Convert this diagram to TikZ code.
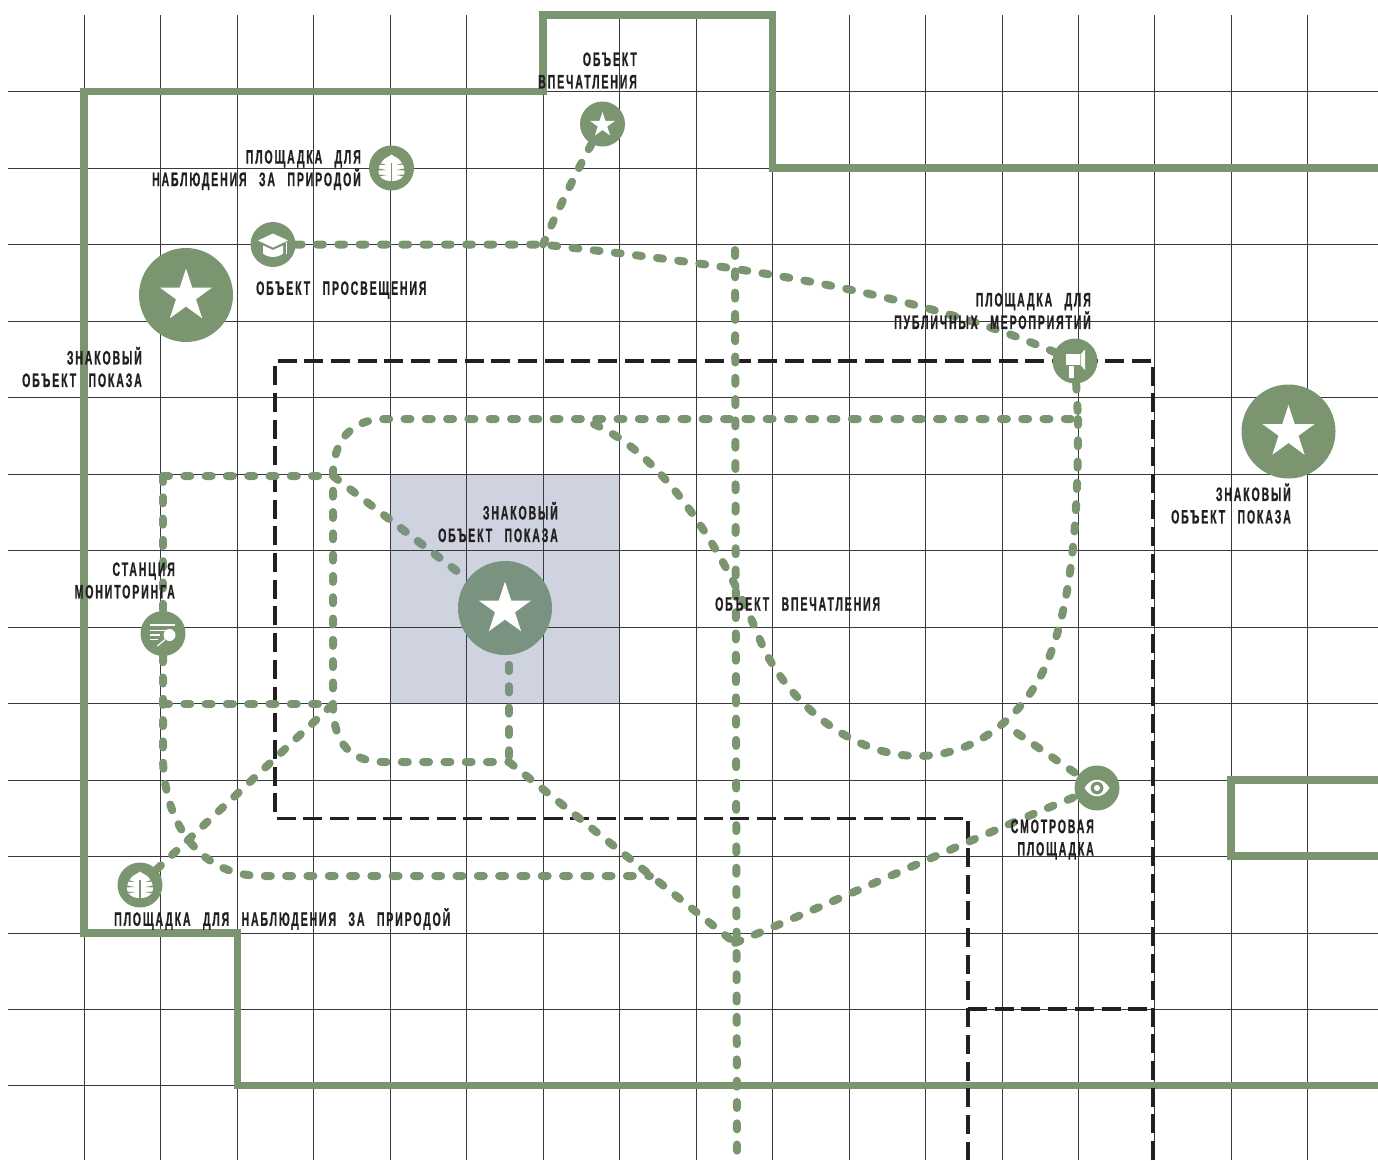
\documentclass[tikz,border=0pt]{standalone}
\usepackage{fontspec}
\usetikzlibrary{shapes.geometric}
\newfontfamily\lblfont[FakeStretch=0.54,LetterSpace=9.5,FakeBold=0.7,WordSpace=2.6]{Liberation Sans}
\definecolor{wallgreen}{HTML}{7A9570}
\definecolor{inkblack}{HTML}{231F20}
\definecolor{gridgrey}{HTML}{3A3A3A}
\definecolor{squareblue}{HTML}{CED3DF}
\definecolor{midgreen}{HTML}{7A9280}
\pgfdeclarelayer{under}
\pgfdeclarelayer{paths}
\pgfsetlayers{under,paths,main}
\tikzset{
  gridline/.style={draw=gridgrey,line width=0.9pt},
  wall/.style={draw=wallgreen,line width=7.5pt,line cap=rect,line join=miter},
  zone/.style={draw=inkblack,line width=3.6pt,dash pattern=on 19pt off 7.7pt},
  trail/.style={draw=wallgreen,line width=8pt,line cap=round,dash pattern=on 6pt off 15.3pt},
  bigdot/.style={circle,fill=wallgreen,minimum size=94pt,inner sep=0pt},
  smalldot/.style={circle,fill=wallgreen,minimum size=45pt,inner sep=0pt},
  bigstar/.style={star,star points=5,star point ratio=2.618,fill=white,minimum size=55pt,inner sep=0pt},
  smallstar/.style={star,star points=5,star point ratio=2.618,fill=white,minimum size=26pt,inner sep=0pt},
  lbl/.style={inner sep=0pt,text=inkblack,font=\lblfont\bfseries\fontsize{19.5}{22.5}\selectfont},
  lblr/.style={lbl,anchor=east,align=right},
  lbll/.style={lbl,anchor=west,align=left},
  leafmark/.pic={
    \fill[white] (0,-13.5) .. controls (3,-11) and (7,-10) .. (9,-7)
      .. controls (13,-3) and (14,4) .. (12,8)
      .. controls (9,12) and (4,13) .. (1,13) -- (-1,13)
      .. controls (-4,13) and (-9,12) .. (-12,8)
      .. controls (-14,4) and (-13,-3) .. (-9,-7)
      .. controls (-7,-10) and (-3,-11) .. cycle;
    \draw[wallgreen,line width=1.1pt] (0,-5) -- (0,13.5);
    \foreach \s in {-1,1}{
      \fill[wallgreen] (\s*15,-6) -- (\s*5,-3) -- (\s*15,-3.5) -- cycle;
      \fill[wallgreen] (\s*15,0) -- (\s*5,2) -- (\s*15,2.5) -- cycle;
      \fill[wallgreen] (\s*15,6.5) -- (\s*5,7) -- (\s*15,9) -- cycle;
    }
  },
  hatmark/.pic={
    \fill[white] (-15,-4) -- (0,-11) -- (15,-4) -- (0,3) -- cycle;
    \fill[white] (-10,1) -- (0,5.5) -- (10,1) -- (10,9) .. controls (5,13.5) and (-5,13.5) .. (-10,9) -- cycle;
    \draw[white,line width=1.1pt] (13.5,-3) -- (13.5,9);
  },
  monitormark/.pic={
    \draw[white,line width=1.1pt] (-13,-8.5) -- (12,-8.5);
    \draw[white,line width=1.1pt] (-13,-3) -- (3,-3);
    \draw[white,line width=1.1pt] (-13,1.5) -- (-3,1.5);
    \draw[white,line width=1.1pt] (-13,6) -- (-5,6);
    \fill[white] (6.5,1.5) circle (6pt);
    \draw[white,line width=1.2pt] (2,6) -- (-5.5,12.5);
  },
  speakermark/.pic={
    \fill[white] (-9,-7) rectangle (5,4);
    \fill[white] (5.5,-6.5) -- (10,-11.5) -- (10,9) -- (5.5,4) -- cycle;
    \fill[white] (-6,4.5) rectangle (-1.5,17);
  },
  eyemark/.pic={
    \fill[white] (-12.5,0) .. controls (-6,-11) and (6,-11) .. (12.5,0) .. controls (6,11) and (-6,11) .. (-12.5,0) -- cycle;
    \fill[wallgreen] (0,0) circle (6.4pt);
    \fill[white] (0,0) circle (3pt);
  }
}
\begin{document}
\begin{tikzpicture}[x=1pt,y=-1pt]
\useasboundingbox (0,0) rectangle (1378,1160);

% markers
\node[bigdot] (starnw) at (186,295) {};
\node[bigdot] (stare) at (1288.5,431.5) {};
\node[bigdot,fill=midgreen] (starc) at (505,608) {};
\node[smalldot] (starn) at (602.5,124) {};
\node[smalldot] (leafn) at (391.5,168) {};
\node[smalldot] (hat) at (273,244.5) {};
\node[smalldot] (monitor) at (163,633.5) {};
\node[smalldot] (speaker) at (1075,361) {};
\node[smalldot] (eye) at (1097,788) {};
\node[smalldot] (leafs) at (140,885) {};
\node[bigstar] (s1) at (186,296) {};
\node[bigstar] (s2) at (1288.5,432.5) {};
\node[bigstar] (s3) at (505,609) {};
\node[smallstar] (s4) at (602.5,125) {};
\pic at (leafn) {leafmark};
\pic at (leafs) {leafmark};
\pic at (hat) {hatmark};
\pic at (monitor) {monitormark};
\pic at (speaker) {speakermark};
\pic at (eye) {eyemark};

% junctions
\coordinate (jA) at (543,244.5);
\coordinate (jB) at (333,476);
\coordinate (jC) at (333,704);
\coordinate (jD) at (163,476);
\coordinate (jE) at (163,704);
\coordinate (jF) at (509,762);
\coordinate (jG) at (735,943);
\coordinate (jH) at (1078,419);
\coordinate (jI) at (580,419);
\coordinate (jJ) at (650,876);
\coordinate (jK) at (1017,733);
\coordinate (jL) at (509,665);
\coordinate (vtop) at (735,250);
\coordinate (vbot) at (737,1160);
\coordinate (sqa) at (390,474);
\coordinate (sqb) at (619,703);

\begin{pgfonlayer}{under}
  \fill[squareblue] (sqa) rectangle (sqb);
  \foreach \gx in {84,160.5,237,313,390,466,543,619,696,772,849,925,1002,1078,1154,1231,1307}
    \draw[gridline] (\gx,15) -- (\gx,1160);
  \foreach \gy in {91.5,168,244.5,321,397.5,474,550,627,703,780,856,933,1009,1085.5}
    \draw[gridline] (8,\gy) -- (1378,\gy);
  \draw[wall] (1378,1085.5) -- (237.5,1085.5) -- (237.5,933) -- (84,933) -- (84,91.5) -- (543,91.5) -- (543,15) -- (772.5,15) -- (772.5,168) -- (1378,168);
  \draw[wall] (1378,780) -- (1231,780) -- (1231,856) -- (1378,856);
  \draw[zone] (1153,1160) -- (1153,361) -- (275,361) -- (275,818.5) -- (968,818.5) -- (968,1160);
  \draw[zone] (968,1009) -- (1153,1009);
\end{pgfonlayer}

\begin{pgfonlayer}{paths}
  \draw[trail] (hat) -- (jA) .. controls (700,262) and (900,285) .. (speaker);
  \draw[trail] (starn) .. controls (580,165) and (560,205) .. (jA);
  \draw[trail] (vtop) -- (vbot);
  % rounded loop
  \draw[trail] (speaker) -- (jH) -- (385,419) .. controls (352,419) and (333,440) .. (jB) -- (jC)
    .. controls (333,745) and (352,762) .. (385,762) -- (jF);
  \draw[trail] (jL) -- (jF);
  % inner curve
  \draw[trail] (jH) .. controls (1078,500) and (1075,590) .. (1050,655)
    .. controls (1030,710) and (980,756) .. (918,756)
    .. controls (850,756) and (785,700) .. (760,640)
    .. controls (730,565) and (665,445) .. (jI);
  \draw[trail] (jD) -- (jB) -- (starc);
  \draw[trail] (jD) -- (monitor);
  \draw[trail] (monitor) -- (jE) -- (163,760) .. controls (165,830) and (205,876) .. (262,876) -- (jJ);
  \draw[trail] (jE) -- (jC);
  \draw[trail] (leafs) -- (jC);
  \draw[trail] (jF) -- (jG);
  \draw[trail] (jG) .. controls (850,895) and (980,835) .. (eye);
  \draw[trail] (jK) -- (eye);
  \begin{scope}
    \clip (sqa) rectangle (sqb);
    \draw[trail,draw=midgreen] (jD) -- (jB) -- (starc);
    \draw[trail,draw=midgreen] (jL) -- (jF);
  \end{scope}
\end{pgfonlayer}

% labels
\node[lblr] (t1) at (637,70.5) {ОБЪЕКТ\\ВПЕЧАТЛЕНИЯ};
\node[lblr] (t2) at (361,170) {ПЛОЩАДКА ДЛЯ\\НАБЛЮДЕНИЯ ЗА ПРИРОДОЙ};
\node[lbll] (t3) at (256,290) {ОБЪЕКТ ПРОСВЕЩЕНИЯ};
\node[lblr] (t4) at (142,367) {ЗНАКОВЫЙ\\ОБЪЕКТ ПОКАЗА};
\node[lblr] (t5) at (1091,311) {ПЛОЩАДКА ДЛЯ\\ПУБЛИЧНЫХ МЕРОПРИЯТИЙ};
\node[lblr] (t6) at (1291,503.5) {ЗНАКОВЫЙ\\ОБЪЕКТ ПОКАЗА};
\node[lblr] (t7) at (558,522) {ЗНАКОВЫЙ\\ОБЪЕКТ ПОКАЗА};
\node[lblr] (t8) at (175,580.5) {СТАНЦИЯ\\МОНИТОРИНГА};
\node[lbll] (t9) at (715,604) {ОБЪЕКТ ВПЕЧАТЛЕНИЯ};
\node[lblr] (t10) at (1094,839.5) {СМОТРОВАЯ\\ПЛОЩАДКА};
\node[lbll] (t11) at (114,919) {ПЛОЩАДКА ДЛЯ НАБЛЮДЕНИЯ ЗА ПРИРОДОЙ};
\end{tikzpicture}
\end{document}
